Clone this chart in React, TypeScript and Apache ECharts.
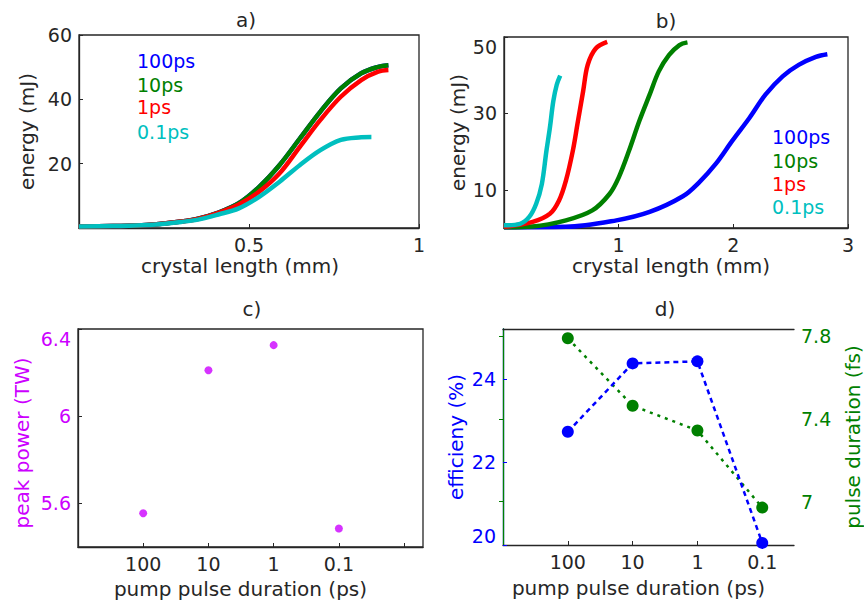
import React, { useEffect, useRef } from "react";
import * as echarts from "echarts";

// ---------- panel a) energy vs crystal length (mm) ----------
const aX = [0, 0.1, 0.2, 0.3, 0.35, 0.41, 0.47, 0.53, 0.59, 0.65, 0.71, 0.77, 0.83, 0.88, 0.91];
const a100ps = [0.5, 0.6, 0.9, 2.0, 2.9, 4.8, 7.7, 12.8, 19.6, 27.9, 36.2, 43.4, 48.1, 50.1, 50.6];
const a10ps = [0.5, 0.6, 0.9, 2.0, 2.9, 4.8, 7.7, 12.8, 19.6, 27.9, 36.2, 43.4, 48.1, 50.1, 50.6];
const a1ps = [0.5, 0.6, 0.9, 2.0, 2.8, 4.7, 7.3, 11.3, 17.0, 25.3, 33.6, 40.8, 46.0, 48.6, 49.1];
const aX01 = [0, 0.1, 0.2, 0.3, 0.35, 0.41, 0.47, 0.53, 0.59, 0.65, 0.71, 0.77, 0.83, 0.86];
const a01ps = [0.5, 0.6, 0.9, 1.9, 2.6, 4.2, 6.1, 9.7, 14.4, 19.6, 24.2, 27.4, 28.2, 28.3];

// ---------- panel b) energy vs crystal length (mm) ----------
const bX100 = [0, 0.54, 0.98, 1.27, 1.56, 1.7, 1.85, 1.99, 2.14, 2.28, 2.43, 2.57, 2.72, 2.82];
const b100ps = [0.2, 0.3, 2.0, 4.2, 8.3, 11.9, 16.9, 22.8, 28.8, 34.9, 39.7, 42.7, 44.8, 45.5];
const bX10 = [0, 0.25, 0.54, 0.77, 0.92, 1.0, 1.09, 1.18, 1.27, 1.35, 1.44, 1.53, 1.6];
const b10ps = [0.2, 0.4, 2.0, 4.6, 8.9, 13.2, 20.2, 28.0, 34.9, 41.0, 45.3, 47.9, 48.6];
const bX1 = [0, 0.25, 0.4, 0.48, 0.54, 0.6, 0.64, 0.69, 0.73, 0.8, 0.9];
const b1ps = [0.3, 1.6, 3.7, 7.2, 12.4, 20.2, 27.1, 35.8, 42.7, 47.0, 48.7];
const bX01 = [0, 0.14, 0.22, 0.28, 0.33, 0.37, 0.4, 0.43, 0.46, 0.49];
const b01ps = [0.7, 1.1, 2.9, 6.3, 11.5, 20.2, 26.2, 33.2, 37.5, 39.9];

// ---------- panels c) and d) vs pump pulse duration (ps) ----------
const pumpDurations = ["100", "10", "1", "0.1"];
const peakPowerTW = [5.555, 6.211, 6.326, 5.485];
const efficiencyPct = [22.73, 24.38, 24.43, 20.05];
const pulseDurationFs = [7.79, 7.464, 7.344, 6.971];

// legend labels
const legendLabels = ["100ps", "10ps", "1ps", "0.1ps"];

const C_BLUE = "#0000ff";
const C_GREEN = "#008000";
const C_RED = "#ff0000";
const C_CYAN = "#00bfbf";
const C_MAG = "#cc00ff";
const C_TXT = "#262626";
const FONT = "DejaVu Sans";

const zip = (xs: number[], ys: number[]) => ys.map((y, i) => [xs[i], y]);

export default function App() {
  const ref = useRef<HTMLDivElement>(null);

  useEffect(() => {
    if (!ref.current) return;
    const chart = echarts.init(ref.current, undefined, { renderer: "svg" });

    const tickLbl = (color: string) => ({
      color,
      fontSize: 19,
      fontFamily: FONT,
      margin: 7,
    });
    const nameStyle = (color: string, padding?: number[]) => ({
      color,
      fontSize: 20,
      fontFamily: FONT,
      padding: padding || [0, 0, 0, 0],
    });
    const line = (color: string) => ({ show: true, lineStyle: { color, width: 1.3 } });
    const tick = (color: string) => ({ show: true, inside: true, length: 4, lineStyle: { color, width: 1 } });

    const gridBox = { show: true, borderColor: C_TXT, borderWidth: 1.3, backgroundColor: "transparent" };

    const curve = (name: string, color: string, data: number[][], xi: number, yi: number, z: number) => ({
      type: "line",
      name,
      xAxisIndex: xi,
      yAxisIndex: yi,
      data,
      smooth: 0.35,
      showSymbol: false,
      symbol: "none",
      lineStyle: { color, width: 4.5 },
      itemStyle: { color },
      z,
    });

    const catIdx = pumpDurations.map((_, i) => i + 1);

    const legendTexts = (x: number, ys: number[]) =>
      legendLabels.map((t, i) => ({
        type: "text",
        x,
        y: ys[i],
        style: {
          text: t,
          fill: [C_BLUE, C_GREEN, C_RED, C_CYAN][i],
          fontSize: 19,
          lineHeight: 16,
          fontFamily: FONT,
          align: "left",
          verticalAlign: "middle",
        },
      }));

    const title = (t: string, x: number, y: number) => ({
      type: "text",
      x,
      y,
      style: { text: t, fill: C_TXT, fontSize: 20, fontFamily: FONT, align: "center", verticalAlign: "middle" },
    });

    const option: any = {
      animation: false,
      backgroundColor: "#ffffff",
      grid: [
        { left: 79, top: 35, width: 340, height: 193, ...gridBox },
        { left: 504, top: 37, width: 344, height: 191, ...gridBox },
        { left: 78, top: 329, width: 345, height: 218, ...gridBox },
        { left: 503, top: 329, width: 292, height: 216, show: false },
      ],
      xAxis: [
        {
          gridIndex: 0, type: "value", min: 0, max: 1, interval: 0.5,
          axisLine: line(C_TXT), axisTick: tick(C_TXT), splitLine: { show: false },
          axisLabel: { ...tickLbl(C_TXT), showMinLabel: false, formatter: (v: number) => (v === 0 ? "" : String(v)) },
          name: "crystal length (mm)", nameLocation: "middle", nameGap: 28,
          nameTextStyle: nameStyle(C_TXT, [0, 18, 0, 0]),
        },
        {
          gridIndex: 1, type: "value", min: 0, max: 3, interval: 1,
          axisLine: line(C_TXT), axisTick: tick(C_TXT), splitLine: { show: false },
          axisLabel: { ...tickLbl(C_TXT), showMinLabel: false, formatter: (v: number) => (v === 0 ? "" : String(v)) },
          name: "crystal length (mm)", nameLocation: "middle", nameGap: 28,
          nameTextStyle: nameStyle(C_TXT, [0, 10, 0, 0]),
        },
        {
          gridIndex: 2, type: "value", min: 0, max: 5.29,
          axisLine: line(C_TXT),
          axisTick: { ...tick(C_TXT), customValues: [1, 2, 3, 4, 5] },
          splitLine: { show: false },
          axisLabel: {
            ...tickLbl(C_TXT), customValues: catIdx,
            formatter: (v: number) => pumpDurations[Math.round(v) - 1] || "",
          },
          name: "pump pulse duration (ps)", nameLocation: "middle", nameGap: 32,
          nameTextStyle: nameStyle(C_TXT, [0, 20, 0, 0]),
        },
        {
          gridIndex: 3, type: "value", min: 0, max: 4.49,
          axisLine: line(C_TXT),
          axisTick: { ...tick(C_TXT), customValues: catIdx },
          splitLine: { show: false },
          axisLabel: {
            ...tickLbl(C_TXT), customValues: catIdx,
            formatter: (v: number) => pumpDurations[Math.round(v) - 1] || "",
          },
          name: "pump pulse duration (ps)", nameLocation: "middle", nameGap: 33,
          nameTextStyle: nameStyle(C_TXT, [0, 20, 0, 0]),
        },
        {
          gridIndex: 3, type: "value", position: "top", min: 0, max: 4.49,
          axisLine: line(C_TXT), axisTick: { show: false }, axisLabel: { show: false }, splitLine: { show: false },
        },
      ],
      yAxis: [
        {
          gridIndex: 0, type: "value", min: 0, max: 60, interval: 20,
          axisLine: line(C_TXT), axisTick: tick(C_TXT), splitLine: { show: false },
          axisLabel: { ...tickLbl(C_TXT), showMinLabel: false, formatter: (v: number) => (v === 0 ? "" : String(v)) },
          name: "energy (mJ)", nameLocation: "middle", nameGap: 42, nameTextStyle: nameStyle(C_TXT),
        },
        {
          gridIndex: 1, type: "value", min: 0, max: 50,
          axisLine: line(C_TXT),
          axisTick: { ...tick(C_TXT), customValues: [10, 30, 50] },
          splitLine: { show: false },
          axisLabel: { ...tickLbl(C_TXT), customValues: [10, 30, 50], verticalAlignMaxLabel: "top" },
          name: "energy (mJ)", nameLocation: "middle", nameGap: 36, nameTextStyle: nameStyle(C_TXT),
        },
        {
          gridIndex: 2, type: "value", min: 5.4, max: 6.4,
          axisLine: line(C_TXT),
          axisTick: { ...tick(C_TXT), customValues: [5.6, 6, 6.4] },
          splitLine: { show: false },
          axisLabel: { ...tickLbl(C_MAG), customValues: [5.6, 6, 6.4], verticalAlignMaxLabel: "top" },
          name: "peak power (TW)", nameLocation: "middle", nameGap: 46,
          nameTextStyle: nameStyle(C_MAG, [0, 10, 0, 0]),
        },
        {
          gridIndex: 3, type: "value", position: "left", min: 20, max: 25.21,
          axisLine: line(C_BLUE),
          axisTick: { ...tick(C_BLUE), customValues: [20, 22, 24] },
          splitLine: { show: false },
          axisLabel: { ...tickLbl(C_BLUE), customValues: [20, 22, 24], verticalAlignMinLabel: "bottom" },
          name: "efficieny (%)", nameLocation: "middle", nameGap: 37, nameTextStyle: nameStyle(C_BLUE),
        },
        {
          gridIndex: 3, type: "value", position: "right", min: 6.79, max: 7.835,
          axisLine: line(C_GREEN),
          axisTick: { ...tick(C_GREEN), customValues: [7, 7.4, 7.8] },
          splitLine: { show: false },
          axisLabel: { ...tickLbl(C_GREEN), customValues: [7, 7.4, 7.8] },
          name: "pulse duration (fs)", nameLocation: "middle", nameGap: 49, nameTextStyle: nameStyle(C_GREEN),
        },
      ],
      series: [
        curve("100ps", C_BLUE, zip(aX, a100ps), 0, 0, 1),
        curve("10ps", C_GREEN, zip(aX, a10ps), 0, 0, 2),
        curve("1ps", C_RED, zip(aX, a1ps), 0, 0, 3),
        curve("0.1ps", C_CYAN, zip(aX01, a01ps), 0, 0, 4),
        curve("100ps", C_BLUE, zip(bX100, b100ps), 1, 1, 1),
        curve("10ps", C_GREEN, zip(bX10, b10ps), 1, 1, 2),
        curve("1ps", C_RED, zip(bX1, b1ps), 1, 1, 3),
        curve("0.1ps", C_CYAN, zip(bX01, b01ps), 1, 1, 4),
        {
          type: "scatter",
          name: "peak power",
          xAxisIndex: 2,
          yAxisIndex: 2,
          data: zip(catIdx, peakPowerTW),
          symbol: "circle",
          symbolSize: 8,
          itemStyle: { color: C_MAG },
        },
        {
          type: "line",
          name: "pulse duration",
          xAxisIndex: 3,
          yAxisIndex: 4,
          data: zip(catIdx, pulseDurationFs),
          symbol: "circle",
          symbolSize: 12,
          showSymbol: true,
          clip: false,
          lineStyle: { color: C_GREEN, width: 2.5, type: [3, 5] },
          itemStyle: { color: C_GREEN },
          z: 2,
        },
        {
          type: "line",
          name: "efficiency",
          xAxisIndex: 3,
          yAxisIndex: 3,
          data: zip(catIdx, efficiencyPct),
          symbol: "circle",
          symbolSize: 12,
          showSymbol: true,
          clip: false,
          lineStyle: { color: C_BLUE, width: 2.5, type: [5, 4] },
          itemStyle: { color: C_BLUE },
          z: 3,
        },
      ],
      graphic: [
        title("a)", 246, 20),
        title("b)", 666, 21),
        title("c)", 252, 309),
        title("d)", 665, 309),
        ...legendTexts(137, [61, 85, 107, 132]),
        ...legendTexts(772, [137, 161, 184, 207]),
      ],
    };

    chart.setOption(option);
    return () => chart.dispose();
  }, []);

  return (
    <div
      ref={ref}
      style={{ position: "absolute", left: 0, top: 0, width: 864, height: 607 }}
    />
  );
}
